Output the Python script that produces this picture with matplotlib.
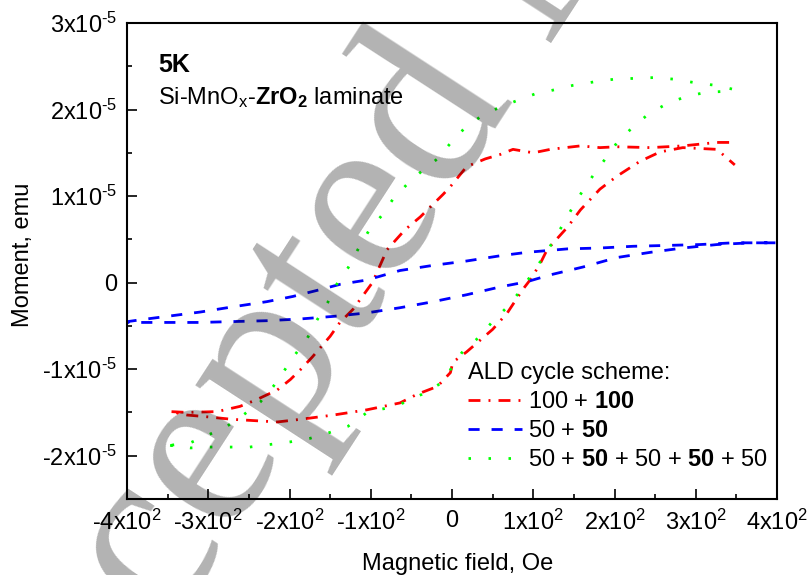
import numpy as np
import matplotlib.pyplot as plt

plt.rcParams['font.family'] = ['Liberation Sans', 'DejaVu Sans']
plt.rcParams['mathtext.fontset'] = 'custom'
plt.rcParams['mathtext.rm'] = 'Liberation Sans'
plt.rcParams['mathtext.bf'] = 'Liberation Sans:bold'
plt.rcParams['mathtext.it'] = 'Liberation Sans:italic'
plt.rcParams['mathtext.default'] = 'regular'

# moment in units of 1e-5 emu, field in Oe
# 100 + 100 (red), field going down then up
red_field_down = [341, 326, 284, 244, 203, 182, 158, 121, 100, 75, 59, 41, 18, -2, -11, -39, -58,
                  -80, -98, -122, -138, -150, -172, -187, -199, -215, -240, -261, -289, -326, -347]
red_moment_down = [1.62, 1.62, 1.58, 1.56, 1.57, 1.56, 1.58, 1.54, 1.50, 1.54, 1.48, 1.43, 1.34, 1.11, 1.02, 0.76, 0.61,
                   0.38, 0.00, -0.31, -0.46, -0.62, -0.86, -1.01, -1.12, -1.24, -1.35, -1.43, -1.49, -1.50, -1.49]
red_field_up = [-347, -326, -302, -270, -215, -187, -146, -105, -64, -43, -18, -2, 1, 18, 50, 68, 87,
                96, 108, 117, 142, 158, 182, 203, 231, 256, 284, 326, 348]
red_moment_up = [-1.49, -1.53, -1.55, -1.58, -1.61, -1.58, -1.53, -1.47, -1.39, -1.29, -1.20, -1.04, -0.92, -0.80, -0.54, -0.35, -0.08,
                 0.03, 0.21, 0.38, 0.64, 0.84, 1.08, 1.23, 1.40, 1.51, 1.56, 1.54, 1.36]

# 50 + 50 (blue)
blue_field_down = [398, 346, 305, 265, 223, 182, 142, 92, 59, 18, -23, -64, -105, -138, -162, -196,
                   -228, -270, -310, -351, -384, -399]
blue_moment_down = [0.46, 0.46, 0.44, 0.43, 0.42, 0.40, 0.39, 0.35, 0.31, 0.25, 0.20, 0.14, 0.03, -0.02, -0.08, -0.16,
                    -0.22, -0.28, -0.34, -0.39, -0.43, -0.45]
blue_field_up = [-399, -351, -310, -270, -228, -187, -146, -105, -64, -23, 18, 59, 92, 121, 161, 203,
                 244, 284, 326, 367, 398]
blue_moment_up = [-0.46, -0.46, -0.46, -0.45, -0.44, -0.42, -0.39, -0.35, -0.29, -0.22, -0.14, -0.05, 0.01, 0.09, 0.18, 0.29,
                  0.35, 0.40, 0.44, 0.46, 0.46]

# 50 + 50 + 50 + 50 + 50 (green)
green_field_down = [348, 324, 299, 274, 250, 224, 199, 175, 149, 127, 102, 79, 55, 34, 16, -2, -18, -37, -55,
                    -73, -87, -103, -116, -128, -142, -153, -166, -178, -193, -206, -220, -236, -257, -277, -300, -322, -347]
green_moment_down = [2.23, 2.28, 2.31, 2.35, 2.37, 2.36, 2.35, 2.32, 2.28, 2.23, 2.18, 2.10, 2.01, 1.91, 1.79, 1.61, 1.43, 1.29, 1.14,
                     0.96, 0.77, 0.59, 0.38, 0.17, -0.02, -0.23, -0.43, -0.64, -0.83, -1.01, -1.20, -1.38, -1.53, -1.66, -1.76, -1.85, -1.88]
green_field_up = [-347, -322, -298, -273, -249, -224, -199, -175, -150, -128, -103, -80, -60, -37, -15, 0, 12, 32,
                  49, 66, 82, 97, 112, 124, 137, 149, 162, 176, 191, 204, 223, 242, 265, 288, 313, 337]
green_moment_up = [-1.88, -1.91, -1.90, -1.90, -1.90, -1.87, -1.84, -1.80, -1.73, -1.66, -1.49, -1.45, -1.39, -1.29, -1.17, -0.98, -0.81, -0.64,
                   -0.46, -0.30, -0.12, 0.08, 0.29, 0.47, 0.68, 0.88, 1.08, 1.27, 1.46, 1.63, 1.80, 1.95, 2.07, 2.15, 2.20, 2.21]

labels = ['100 + $\\mathbf{100}$', '50 + $\\mathbf{50}$',
          '50 + $\\mathbf{50}$ + 50 + $\\mathbf{50}$ + 50']

x_ticks = [-400, -300, -200, -100, 0, 100, 200, 300, 400]
x_ticklabels = ['-4x10$^2$', '-3x10$^2$', '-2x10$^2$', '-1x10$^2$', '0',
                '1x10$^2$', '2x10$^2$', '3x10$^2$', '4x10$^2$']
y_ticks = [-2, -1, 0, 1, 2, 3]
y_ticklabels = ['-2x10$^{\\text{-5}}$', '-1x10$^{\\text{-5}}$', '0',
                '1x10$^{\\text{-5}}$', '2x10$^{\\text{-5}}$', '3x10$^{\\text{-5}}$']

FS = 17

fig = plt.figure(figsize=(8.09, 5.75), dpi=100)
ax = fig.add_axes([0.157, 0.1322, 0.8035, 0.8278])

ax.plot(red_field_down + red_field_up, red_moment_down + red_moment_up, color='#ff0000', lw=2,
        linestyle=(0, (4.3, 2.9, 0.7, 2.9)), label=labels[0])
ax.plot(blue_field_down + blue_field_up, blue_moment_down + blue_moment_up, color='#0000ff', lw=2,
        linestyle=(0, (4.0, 4.3)), label=labels[1])
ax.plot(green_field_up + green_field_down, green_moment_up + green_moment_down, color='#00ff00', lw=2,
        linestyle=(0, (0.9, 6.3)), label=labels[2])

ax.set_xlim(-400, 400)
ax.set_ylim(-2.5, 3)
ax.set_xticks(x_ticks)
ax.set_xticklabels(x_ticklabels)
ax.set_yticks(y_ticks)
ax.set_yticklabels(y_ticklabels)
ax.set_xticks(np.arange(-350, 400, 100), minor=True)
ax.set_yticks(np.arange(-1.5, 3, 1.0), minor=True)
ax.tick_params(which='both', direction='in', top=False, right=False, width=1.2, labelsize=FS)
ax.tick_params(which='major', length=7)
ax.tick_params(which='minor', length=3.5)
ax.tick_params(axis='x', pad=8)
ax.tick_params(axis='y', pad=7)
for sp in ax.spines.values():
    sp.set_linewidth(1.5)

ax.set_xlabel('Magnetic field, Oe', fontsize=FS)
ax.xaxis.set_label_coords(0.508, -0.113)
ax.set_ylabel('Moment, emu', fontsize=FS)
ax.yaxis.set_label_coords(-0.143, 0.514)

ax.text(0.048, 0.897, '5K', fontsize=18, fontweight='bold', transform=ax.transAxes, va='baseline')
ax.text(0.047, 0.83, 'Si-MnO$_x$-$\\mathbf{ZrO_2}$ laminate', fontsize=FS,
        transform=ax.transAxes, va='baseline')

ax.legend(title='ALD cycle scheme:', alignment='left', loc='upper left',
          bbox_to_anchor=(0.525, 0.288), frameon=False, fontsize=FS, title_fontsize=FS,
          handlelength=2.29, handletextpad=0.25, labelspacing=0.3, borderpad=0, borderaxespad=0)

# grey "Accepted Manuscript" watermark laid over the figure
fig.text(0.0185, -0.511, 'Accepted Manuscript', rotation=57, rotation_mode='anchor', ha='left',
         va='baseline', fontsize=175, family='Liberation Serif', color='black', alpha=0.3, zorder=10)

fig.savefig('out.png', dpi=100)
